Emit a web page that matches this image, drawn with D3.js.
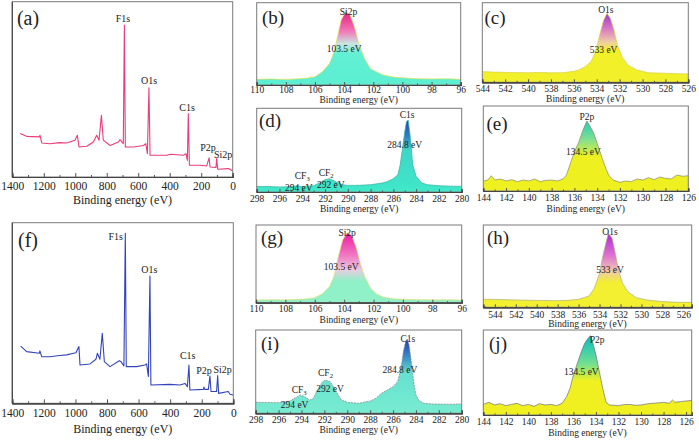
<!DOCTYPE html>
<html><head><meta charset="utf-8">
<script src="https://cdn.jsdelivr.net/npm/d3@7"></script>
<style>
body{margin:0;background:#fff}
svg{display:block}
</style>
</head><body>
<svg id="c" width="699" height="441"></svg>
<script>
// ---------------- DATA ----------------
const surveyTicks = [1400,1200,1000,800,600,400,200,0];
const siTicks = [110,108,106,104,102,100,98,96];
const oTicks = [544,542,540,538,536,534,532,530,528,526];
const cTicks = [298,296,294,292,290,288,286,284,282,280];
const pTicks = [144,142,140,138,136,134,132,130,128,126];

const surveyA = [[1351,24.8],[1309,23.2],[1228,22.9],[1224,23.8],[1213,19.4],[1160,19],[1100,19.6],[1055,19.4],[1002,21],[987,23.8],[976,17.1],[927,17.5],[885,20],[864,23.8],[849,21],[834,35.2],[822,21],[779,18],[726,20],[716,21.3],[695,19],[688,86.7],[682,17.1],[631,17.1],[567,18],[552,19],[542,13.3],[532,50.9],[525,12.4],[419,12.4],[394,13],[313,12.4],[297,13.3],[288,9.5],[282,36.2],[275,6.7],[208,6.7],[165,6.3],[150,10.9],[144,5.7],[106,5.5],[102,10.5],[95,4.4],[27,4.8],[0,3.4]];
const surveyF = [[1347,31.7],[1309,28.6],[1229,27.7],[1225,29],[1214,25.8],[1161,25.8],[1100,26.5],[1056,26.8],[997,28],[978,31.4],[971,21.2],[908,21.8],[870,24.4],[861,27.7],[845,24.4],[830,38.7],[817,23.1],[781,20.3],[722,23.6],[712,23.1],[693,20.7],[684,94.1],[678,20.3],[612,20.3],[560,21.2],[549,21.8],[538,14.8],[528,70.5],[522,10.1],[401,10.5],[338,10.1],[306,11],[291,9.2],[281,21.2],[275,7.4],[190,7.7],[186,9],[182,7.7],[158,7.7],[148,15.1],[141,6.5],[106,6.5],[99,15.3],[93,5.5],[32,6.5],[21,5],[0,4.6]];

const si2pB = [[110,6.9],[109,7.3],[108,6.8],[107,7.7],[106.5,8.5],[106,10],[105.5,16],[105,26],[104.7,40],[104.5,55],[104.2,79],[103.9,89],[103.6,85],[103.3,71],[103,51],[102.6,32],[102.2,20],[101.8,16],[101.3,12],[100.5,9.3],[99.5,8.2],[99,7.7],[98,7.4],[97,7.6],[96,6.9]];
const o1sC = [[544,13.4],[543,12.8],[542,12.5],[541,12.2],[540,12],[539,12.3],[538,11.9],[537,12],[536,13.8],[535.5,15.8],[535,19.7],[534.5,26],[534.2,35],[534,44.8],[533.7,61.5],[533.4,78],[533.1,86.6],[532.8,80],[532.5,66],[532.2,47],[531.8,32],[531.3,21.8],[530.5,15.5],[529.5,12],[528,11.3],[527,10.8],[526,10.5]];
const c1sD = [[298,6.7],[297,6.5],[296,6],[295,6.4],[294.5,7.2],[294,6.7],[293.5,7],[293,7.5],[292.5,10.7],[292,14.7],[291.6,15.9],[291,11.9],[290.5,8.7],[290,7.9],[289,8],[288,8.7],[287,10.7],[286.5,12.5],[286,15.9],[285.6,20.6],[285.4,32.5],[285.2,52],[285,72],[284.85,84],[284.7,86],[284.5,64],[284.3,32.5],[284,18.7],[283.5,10.7],[283,8.7],[282,7.5],[281,7],[280,6.7]];
const p2pE = [[144,11.8],[143.6,12.9],[143.3,18],[143,12.9],[142.5,14.1],[142,11.8],[141.5,13.3],[141,11],[140.5,12.9],[140,11.8],[139.5,14.1],[139,11],[138.5,12.5],[138,12.9],[137.5,11.8],[137,14.1],[136.7,18.8],[136.4,30.6],[136,46],[135.6,58],[135.3,70],[135,79.6],[134.9,82.4],[134.6,75.7],[134.3,67.8],[134,56],[133.6,40],[133.3,28.6],[133,18.8],[132.6,12.9],[132,10.2],[131.5,11.8],[131,11],[130.5,14.1],[130,12.9],[129.5,15.7],[129,13.3],[128.5,16.5],[128,14.9],[127.5,14.1],[127,18.8],[126.5,17.3],[126,18]];
const si2pG = [[110,3.4],[109,3.8],[108,3.6],[107,4.3],[106.5,5],[106,6.4],[105.5,11.2],[105,20.6],[104.7,33.5],[104.4,59],[104.1,80.7],[103.8,90],[103.5,87],[103.2,72],[102.9,50.6],[102.6,33.5],[102.2,18.5],[101.8,11.2],[101.3,6.9],[100.5,4.7],[99.5,4.2],[99,3.9],[98,3.6],[97,3.7],[96,3.4]];
const o1sH = [[545.1,9.7],[544,9.6],[542,8.9],[540,8.4],[538,8.1],[537,8.5],[536,9.7],[535,13.8],[534.5,23],[534,41],[533.7,61.5],[533.4,77.7],[533.15,90],[532.8,83.8],[532.5,65.6],[532.2,45],[531.8,29],[531.3,19],[530.5,11.7],[529.5,8.9],[528,6.9],[527,6.3],[526,6],[525.2,6]];
const c1sI = [[298,13.2],[297,13],[296,12.8],[295,14.8],[294.5,18.8],[294.1,22],[293.7,20],[293.3,16],[293,17.2],[292.6,28],[292.2,37.2],[291.9,40],[291.5,38],[291.2,32],[290.8,22],[290.5,16],[290,13.2],[289,12],[288,14.8],[287.5,18],[287,24],[286.5,28],[286,32],[285.6,38],[285.3,54],[285.1,74],[284.9,86],[284.75,89.2],[284.6,82],[284.4,62],[284.2,38],[284,22],[283.7,14.8],[283.3,12],[282.5,11.2],[281,10.8],[280,11.2]];
const p2pJ = [[144,12.5],[143.5,14.9],[143,11.8],[142.5,13.3],[142,11],[141.5,12.5],[141,13.7],[140.5,11],[140,12.5],[139.5,10.2],[139,13.3],[138.5,11.8],[138,12.5],[137.5,11],[137,13.7],[136.6,21.6],[136.3,31.4],[136,47],[135.6,62.7],[135.3,74.5],[135,84.3],[134.7,90.2],[134.5,93.3],[134.3,86],[134,70.6],[133.7,51],[133.4,31.4],[133.1,14.9],[132.8,11.8],[132,11],[131.5,12.2],[131,12.5],[130.5,11.4],[130,11.8],[129.5,13],[129,13.7],[128.5,14.2],[128,14.9],[127.5,13.8],[127.2,17.6],[127,15],[126.5,15.7],[126,16.5],[125.5,17]];

// annotation labels: [text, binding energy, intensity]
const labelsA = [["F1s",697,90.7],["O1s",531,55.2],["C1s",290,39.8],["P2p",157,17],["Si2p",61,13]];
const labelsF = [["F1s",745,92.6],["O1s",532,74.2],["C1s",289,26.2],["P2p",186,18.1],["Si2p",68,18.8]];
const labelsB = [["Si2p",103.7,89],["103.5 eV",104.0,44.5]];
const labelsC = [["O1s",533.2,91.6],["533 eV",533.4,40.6]];
const labelsD = [["C1s",284.8,92],["284.8 eV",285.0,57],["CF_3",294.0,19.4],["294 eV",294.3,4.8],["CF_2",291.9,22.6],["292 eV",291.5,8.7]];
const labelsE = [["P2p",134.9,87.5],["134.5 eV",135.2,46.3]];
const labelsG = [["Si2p",103.8,90],["103.5 eV",104.2,46.4]];
const labelsH = [["O1s",533.0,91.9],["533 eV",533.0,45.3]];
const labelsI = [["C1s",284.7,89.2],["284.8 eV",285.4,52],["CF_3",294.2,28],["294 eV",294.6,10.8],["CF_2",291.9,49.2],["292 eV",291.5,29.2]];
const labelsJ = [["P2p",133.9,88.2],["134.5 eV",135.3,51]];

// ---------------- LAYOUT ----------------
const FONT = '"Liberation Serif"';
const panels = [
 {id:"a",type:"line",data:surveyA,dom:[1400,0],ticks:surveyTicks,minorStep:100,box:[12.3,1.7,232.7,177],color:"#ee3b78",labels:labelsA,letter:[28,18],tickY:186,titleY:200,fs:11.5,tfs:12,lfs:10,big:true},
 {id:"f",type:"line",data:surveyF,dom:[1400,0],ticks:surveyTicks,minorStep:100,box:[12.3,222.7,233.3,403.3],color:"#3344bb",labels:labelsF,letter:[28,240],tickY:413,titleY:429,fs:11.5,tfs:12,lfs:10,big:true},
 {id:"b",type:"fill",data:si2pB,dom:[110,96],ticks:siTicks,minorStep:1,box:[256.7,2.7,460.7,85],labels:labelsB,letter:[273,17],tickY:90,titleY:99.5,
  stroke:"#e4e050",stops:[[0,"#e0107a"],[0.1,"#e81a80"],[0.35,"#f07ab8"],[0.5,"#c8e6e0"],[0.62,"#62efd4"],[1,"#5cefd2"]]},
 {id:"c",type:"fill",data:o1sC,dom:[544,526],ticks:oTicks,minorStep:1,box:[482.3,2.7,688.3,82.3],labels:labelsC,letter:[495,17],tickY:89,titleY:99,
  stroke:"#d8d040",stops:[[0,"#7a20d0"],[0.12,"#9a34c8"],[0.32,"#d874c8"],[0.5,"#efd0a0"],[0.6,"#f2f028"],[1,"#f2f028"]]},
 {id:"d",type:"fill",data:c1sD,dom:[298,280],ticks:cTicks,minorStep:1,box:[256.7,108.3,461.7,192],labels:labelsD,letter:[270,120],tickY:199,titleY:208.5,
  stroke:"#30b0a0",stops:[[0,"#1a28b0"],[0.1,"#2034b4"],[0.32,"#2f78c0"],[0.5,"#3ed6c8"],[1,"#40e8c8"]]},
 {id:"e",type:"fill",data:p2pE,dom:[144,126],ticks:pTicks,minorStep:1,box:[483.3,106,688.3,191],labels:labelsE,letter:[497,123],tickY:198,titleY:208.5,
  stroke:"#8a8a60",stops:[[0,"#10c0c4"],[0.15,"#18c8bc"],[0.4,"#84e090"],[0.6,"#eef020"],[1,"#eef020"]]},
 {id:"g",type:"fill",data:si2pG,dom:[110,96],ticks:siTicks,minorStep:1,box:[256,225,461.7,302.7],labels:labelsG,letter:[272,237],tickY:309,titleY:319.5,
  stroke:"#e0e070",stops:[[0,"#f010a0"],[0.12,"#f020a4"],[0.4,"#f07cc4"],[0.58,"#e8cce0"],[0.72,"#90f0c8"],[1,"#90f0c8"]]},
 {id:"h",type:"fill",data:o1sH,dom:[545.1,525.2],ticks:oTicks,minorStep:1,box:[483.3,225,691.7,307.3],labels:labelsH,letter:[498,237],tickY:314.5,titleY:324,
  stroke:"#b0b070",stops:[[0,"#a818e0"],[0.1,"#b424d8"],[0.38,"#e076d0"],[0.56,"#f0c8b0"],[0.7,"#f2f030"],[1,"#f2f030"]]},
 {id:"i",type:"fill",data:c1sI,dom:[298,280],ticks:cTicks,minorStep:1,box:[255.7,330,461.7,413.3],labels:labelsI,letter:[270,343],tickY:420,titleY:429.5,
  stroke:"#808080",dash:"2,1",stops:[[0,"#1828c0"],[0.1,"#2434c0"],[0.32,"#3a8ac8"],[0.52,"#66e0d0"],[1,"#78ecd0"]]},
 {id:"j",type:"fill",data:p2pJ,dom:[144,125.5],ticks:pTicks,minorStep:1,box:[483.3,330,691.7,415],labels:labelsJ,letter:[498,343],tickY:422,titleY:433,
  stroke:"#707070",stops:[[0,"#08b8c8"],[0.1,"#10c0c0"],[0.4,"#74e090"],[0.6,"#f0f020"],[1,"#f0f020"]]}
];

const svg = d3.select("#c");
const defs = svg.append("defs");

function txt(sel){ return sel.style("font-family",FONT).attr("fill","#222"); }

panels.forEach(p=>{
  const [x0,y0,x1,y1] = p.box;
  const fs = p.fs||9.5, tfs = p.tfs||9.5, lfs = p.lfs||9.5;
  const x = d3.scaleLinear().domain(p.dom).range([x0,x1]);
  const y = d3.scaleLinear().domain([0,100]).range([y1,y0]);
  const g = svg.append("g");

  if(p.type==="fill"){
    const gid = "grad_"+p.id;
    const lg = defs.append("linearGradient").attr("id",gid).attr("gradientUnits","userSpaceOnUse")
      .attr("x1",0).attr("x2",0).attr("y1",y0).attr("y2",y1);
    p.stops.forEach(s=>lg.append("stop").attr("offset",s[0]).attr("stop-color",s[1]));
    const area = d3.area().x(d=>x(d[0])).y0(y1).y1(d=>y(d[1]));
    g.append("path").datum(p.data).attr("d",area).attr("fill",`url(#${gid})`);
    const line = d3.line().x(d=>x(d[0])).y(d=>y(d[1]));
    g.append("path").datum(p.data).attr("d",line).attr("fill","none")
      .attr("stroke",p.stroke).attr("stroke-width",0.7).attr("stroke-dasharray",p.dash||null);
  } else {
    const line = d3.line().x(d=>x(d[0])).y(d=>y(d[1]));
    g.append("path").datum(p.data).attr("d",line).attr("fill","none")
      .attr("stroke",p.color).attr("stroke-width",1.1).attr("stroke-linejoin","round");
  }

  // frame
  g.append("rect").attr("x",x0).attr("y",y0).attr("width",x1-x0).attr("height",y1-y0)
    .attr("fill","none").attr("stroke","#7a7a7a").attr("stroke-width",1);
  if(p.big){
    g.append("line").attr("x1",x0).attr("x2",x0).attr("y1",y0).attr("y2",y1)
      .attr("stroke","#444").attr("stroke-width",1.2);
  }

  // axis
  const dmin = Math.min(...p.dom), dmax = Math.max(...p.dom);
  const minor = d3.range(Math.ceil(dmin/p.minorStep)*p.minorStep, dmax+1e-9, p.minorStep)
      .filter(v=>!p.ticks.includes(v));
  const axG = g.append("g").attr("transform",`translate(0,${y1})`);
  axG.call(d3.axisBottom(x).tickValues(p.ticks).tickSize(-(p.big?4:3)).tickFormat(d3.format("d")));
  const axM = g.append("g").attr("transform",`translate(0,${y1})`);
  axM.call(d3.axisBottom(x).tickValues(minor).tickSize(p.big?-2:-1.5).tickFormat(""));
  [axG,axM].forEach(a=>{
    a.attr("font-family",null).attr("font-size",null);
    a.select(".domain").attr("stroke","#444").attr("stroke-width",1.2);
    a.selectAll(".tick line").attr("stroke","#555");
  });
  txt(axG.selectAll(".tick text")).attr("y",p.tickY-y1).attr("dy","0.35em")
    .style("font-size",fs+"px");
  axM.selectAll(".tick text").remove();

  // axis title
  txt(g.append("text")).attr("x",(x0+x1)/2).attr("y",p.titleY).attr("dy","0.35em")
    .attr("text-anchor","middle").style("font-size",tfs+"px").text("Binding energy (eV)");

  // panel letter
  txt(g.append("text")).attr("x",p.letter[0]).attr("y",p.letter[1]).attr("dy","0.35em")
    .attr("text-anchor","middle").style("font-size",(p.big?20:19)+"px").text(`(${p.id})`);

  // annotations
  p.labels.forEach(L=>{
    const t = txt(g.append("text")).attr("x",x(L[1])).attr("y",y(L[2])).attr("dy","0.35em")
      .attr("text-anchor","middle").style("font-size",lfs+"px");
    const parts = L[0].split("_");
    t.append("tspan").text(parts[0]);
    if(parts[1]) t.append("tspan").attr("dy","0.3em").style("font-size",(lfs*0.7)+"px").text(parts[1]);
  });
});
</script>
</body></html>
